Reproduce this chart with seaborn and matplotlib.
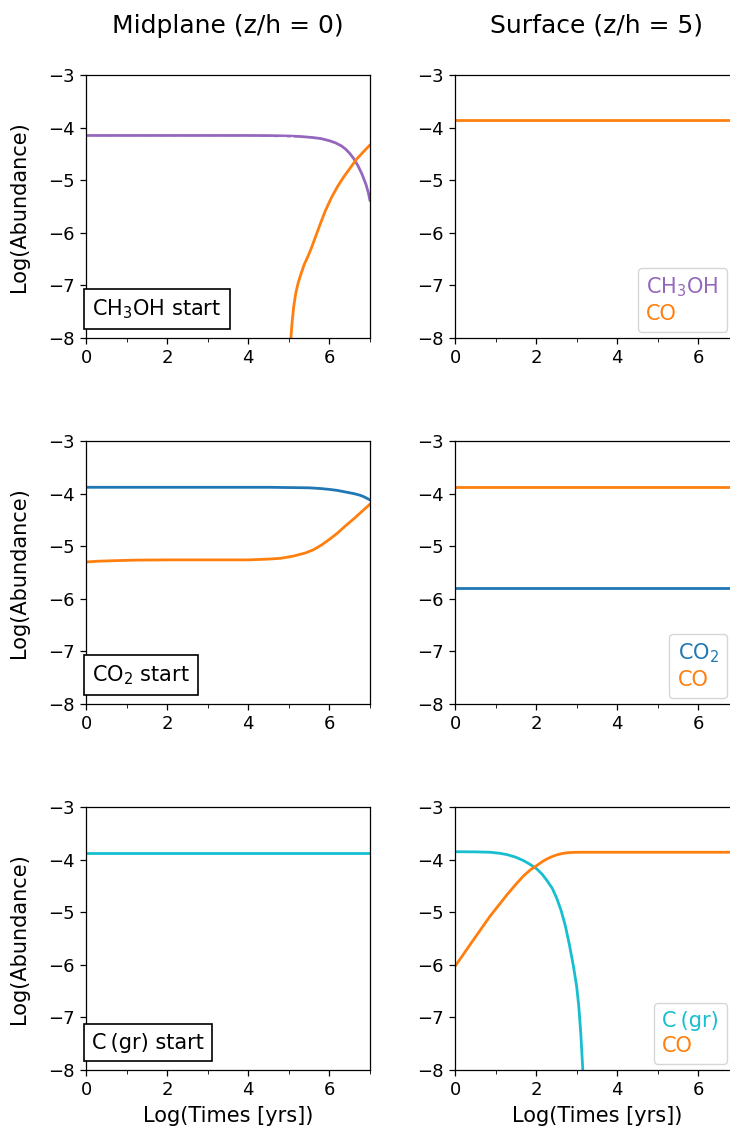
import numpy as np
import pandas as pd
import matplotlib
matplotlib.use("Agg")
import matplotlib.pyplot as plt
import seaborn as sns
from matplotlib.lines import Line2D

# ---------------- data ----------------
col_titles = ["Midplane (z/h = 0)", "Surface (z/h = 5)"]
start_labels = ["CH$_3$OH start", "CO$_2$ start", "C\u2009(gr) start"]

# Row 1: CH3OH start, midplane
mid1_ch3oh_x = [0.0, 4.0, 4.5, 5.0, 5.3, 5.6, 5.8, 6.0, 6.15, 6.3, 6.4, 6.5, 6.6, 6.7, 6.8, 6.9, 6.96, 7.0]
mid1_ch3oh_y = [-4.15, -4.15, -4.152, -4.16, -4.17, -4.19, -4.21, -4.25, -4.29, -4.35, -4.41, -4.49, -4.59, -4.72, -4.88, -5.08, -5.24, -5.39]
mid1_dash_x = [0.0, 5.1]
mid1_dash_y = [-4.175, -4.175]
mid1_co_x = [5.05, 5.08, 5.12, 5.17, 5.23, 5.3, 5.38, 5.47, 5.56, 5.66, 5.77, 5.9, 6.05, 6.2, 6.35, 6.5, 6.67, 6.85, 7.0]
mid1_co_y = [-8.0, -7.7, -7.4, -7.15, -6.95, -6.78, -6.6, -6.45, -6.28, -6.07, -5.84, -5.58, -5.33, -5.12, -4.94, -4.78, -4.6, -4.45, -4.33]
# Row 1: surface
sur1_ch3oh_x = []
sur1_ch3oh_y = []
sur1_co_x = [0.0, 7.0]
sur1_co_y = [-3.86, -3.86]

# Row 2: CO2 start, midplane
mid2_co2_x = [0.0, 4.5, 5.5, 5.8, 6.0, 6.2, 6.4, 6.6, 6.75, 6.85, 6.95, 7.0]
mid2_co2_y = [-3.88, -3.88, -3.89, -3.905, -3.92, -3.94, -3.97, -4.0, -4.03, -4.06, -4.10, -4.12]
mid2_co_x = [0.0, 0.3, 0.7, 1.2, 2.0, 4.0, 4.5, 4.8, 5.1, 5.4, 5.6, 5.8, 6.0, 6.2, 6.4, 6.6, 6.8, 7.0]
mid2_co_y = [-5.30, -5.285, -5.275, -5.265, -5.26, -5.26, -5.245, -5.23, -5.19, -5.13, -5.07, -4.98, -4.87, -4.75, -4.61, -4.48, -4.34, -4.20]
# Row 2: surface
sur2_co2_x = [0.0, 7.0]
sur2_co2_y = [-5.79, -5.79]
sur2_co_x = [0.0, 7.0]
sur2_co_y = [-3.87, -3.87]

# Row 3: C(gr) start, midplane
mid3_cgr_x = [0.0, 7.0]
mid3_cgr_y = [-3.87, -3.87]
# Row 3: surface
sur3_cgr_x = [0.0, 0.5, 0.86, 1.1, 1.28, 1.5, 1.69, 1.85, 2.02, 2.15, 2.26, 2.4, 2.51, 2.62, 2.72, 2.82, 2.92, 3.0, 3.05, 3.1, 3.15]
sur3_cgr_y = [-3.85, -3.853, -3.86, -3.88, -3.905, -3.955, -4.02, -4.09, -4.18, -4.28, -4.39, -4.55, -4.74, -4.98, -5.26, -5.62, -6.03, -6.42, -6.78, -7.3, -8.0]
sur3_co_x = [0.0, 0.45, 0.86, 1.28, 1.5, 1.69, 1.85, 2.02, 2.15, 2.26, 2.4, 2.51, 2.64, 2.76, 2.92, 3.2, 7.0]
sur3_co_y = [-6.03, -5.53, -5.08, -4.67, -4.47, -4.31, -4.2, -4.11, -4.04, -3.99, -3.94, -3.91, -3.885, -3.87, -3.862, -3.86, -3.86]

# ---------------- style ----------------
sns.set_style("ticks")
plt.rcParams["font.family"] = ["DejaVu Sans"]
plt.rcParams["text.color"] = "black"
plt.rcParams["axes.labelcolor"] = "black"
plt.rcParams["axes.linewidth"] = 0.9
plt.rcParams["xtick.major.size"] = 4.5
plt.rcParams["ytick.major.size"] = 4.5
plt.rcParams["xtick.minor.size"] = 3
plt.rcParams["xtick.major.width"] = 0.9
plt.rcParams["ytick.major.width"] = 0.9
plt.rcParams["xtick.color"] = "black"
plt.rcParams["ytick.color"] = "black"
plt.rcParams["axes.edgecolor"] = "black"

C_PURPLE = "#9467bd"
C_ORANGE = "#ff7f0e"
C_BLUE = "#1f77b4"
C_CYAN = "#17becf"

W, H = 730, 1137
fig = plt.figure(figsize=(W / 100, H / 100), dpi=100)

lefts_px = [86, 455]
tops_px = [75, 441, 807]
axw_px, axh_px = 284, 263

axes = [[None, None] for _ in range(3)]
for r in range(3):
    for c in range(2):
        ax = fig.add_axes([lefts_px[c] / W, 1 - (tops_px[r] + axh_px) / H,
                           axw_px / W, axh_px / H])
        axes[r][c] = ax

LW = 2.0

def line(ax, x, y, color, **kw):
    if len(x) == 0:
        return
    df = pd.DataFrame({"x": x, "y": y})
    sns.lineplot(data=df, x="x", y="y", ax=ax, color=color, linewidth=LW,
                 sort=False, estimator=None, legend=False, **kw)

# midplane
line(axes[0][0], mid1_ch3oh_x, mid1_ch3oh_y, C_PURPLE)
axes[0][0].plot(mid1_dash_x, mid1_dash_y, color="white", lw=0.8,
                dashes=(8, 3.5), alpha=0.85)
line(axes[0][0], mid1_co_x, mid1_co_y, C_ORANGE)
line(axes[1][0], mid2_co2_x, mid2_co2_y, C_BLUE)
line(axes[1][0], mid2_co_x, mid2_co_y, C_ORANGE)
line(axes[2][0], mid3_cgr_x, mid3_cgr_y, C_CYAN)

# surface
line(axes[0][1], sur1_ch3oh_x, sur1_ch3oh_y, C_PURPLE)
line(axes[0][1], sur1_co_x, sur1_co_y, C_ORANGE)
line(axes[1][1], sur2_co2_x, sur2_co2_y, C_BLUE)
line(axes[1][1], sur2_co_x, sur2_co_y, C_ORANGE)
line(axes[2][1], sur3_cgr_x, sur3_cgr_y, C_CYAN)
line(axes[2][1], sur3_co_x, sur3_co_y, C_ORANGE)

legend_specs = [
    [("CH$_3$OH", C_PURPLE), ("CO", C_ORANGE)],
    [("CO$_2$", C_BLUE), ("CO", C_ORANGE)],
    [("C\u2009(gr)", C_CYAN), ("CO", C_ORANGE)],
]

for r in range(3):
    for c in range(2):
        ax = axes[r][c]
        ax.set_xlim(0, 7)
        ax.set_ylim(-8, -3)
        ax.set_xticks([0, 2, 4, 6])
        ax.set_xticks([1, 3, 5, 7], minor=True)
        ax.set_yticks([-8, -7, -6, -5, -4, -3])
        ax.tick_params(axis="both", which="major", labelsize=13)
        ax.tick_params(axis="y", which="minor", left=False)
        ax.set_xlabel("Log(Times [yrs])" if r == 2 else "", fontsize=15, labelpad=5)
        ax.set_ylabel("Log(Abundance)" if c == 0 else "", fontsize=15, labelpad=14)
        for s in ax.spines.values():
            s.set_visible(True)
            s.set_color("black")

    # start label box on midplane
    axes[r][0].text(0.021, 0.066, start_labels[r], transform=axes[r][0].transAxes,
                    ha="left", va="bottom", fontsize=15, zorder=5,
                    bbox=dict(boxstyle="square,pad=0.4", fc="white", ec="black", lw=1.2))

    # legend on surface
    handles = [Line2D([], [], color=col, lw=0, label=lab) for lab, col in legend_specs[r]]
    leg = axes[r][1].legend(handles=handles, loc="lower right",
                            bbox_to_anchor=(0.958, 0.023), fontsize=15,
                            handlelength=0, handletextpad=0, borderaxespad=0,
                            labelspacing=0.2, frameon=True)
    leg.get_frame().set_edgecolor("0.8")
    for txt, (lab, col) in zip(leg.get_texts(), legend_specs[r]):
        txt.set_color(col)

fig.text((86 + 284 / 2) / W, 1 - 26 / H, col_titles[0], ha="center", va="center", fontsize=18)
fig.text((455 + 284 / 2) / W, 1 - 26 / H, col_titles[1], ha="center", va="center", fontsize=18)

fig.savefig("out.png", dpi=100)
